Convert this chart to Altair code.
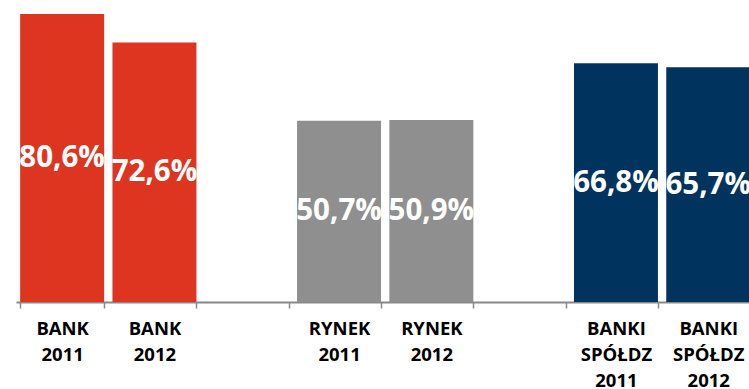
import altair as alt
import pandas as pd

categories = ["BANK|2011", "BANK|2012", "_gap1", "RYNEK|2011", "RYNEK|2012", "_gap2", "BANKI|SPÓŁDZ|2011", "BANKI|SPÓŁDZ|2012"]
bar_categories = ["BANK|2011", "BANK|2012", "RYNEK|2011", "RYNEK|2012", "BANKI|SPÓŁDZ|2011", "BANKI|SPÓŁDZ|2012"]
values = [80.6, 72.6, 50.7, 50.9, 66.8, 65.7]
groups = ["bank", "bank", "rynek", "rynek", "spoldz", "spoldz"]
group_names = ["bank", "rynek", "spoldz"]
group_colors = ["#DE3520", "#8F8F8F", "#00335E"]

df = pd.DataFrame({"cat": bar_categories, "value": values, "group": groups})

x = alt.X(
    "cat:N",
    sort=categories,
    scale=alt.Scale(domain=categories, range=[0, 738.4], paddingInner=0.09, paddingOuter=0.045),
    axis=alt.Axis(
        title=None,
        labelAngle=0,
        tickBand="extent",
        labelExpr="indexof(datum.label, '_') == 0 ? '' : split(datum.label, '|')",
        labelFont="Open Sans",
        labelFontWeight="bold",
        labelFontSize=18.5,
        labelColor="#000000",
        labelLineHeight=26,
        labelPadding=11,
        labelBaseline="top",
        tickSize=6,
        tickColor="#888888",
        tickWidth=1.5,
        domainColor="#888888",
        domainWidth=2,
        grid=False,
    ),
)

base = alt.Chart(df)

bars = base.mark_bar().encode(
    x=x,
    y=alt.Y("value:Q", scale=alt.Scale(domain=[0, 84.5], nice=False), axis=None),
    color=alt.Color("group:N", scale=alt.Scale(domain=group_names, range=group_colors), legend=None),
)

labels = base.transform_calculate(
    mid="datum.value / 2",
    txt="replace(format(datum.value, '.1f'), '.', ',') + '%'",
).mark_text(
    font="Open Sans", fontWeight="bold", fontSize=29.5, color="white", baseline="middle", align="center"
).encode(
    x=alt.X("cat:N", sort=categories),
    y=alt.Y("mid:Q"),
    text="txt:N",
)

chart = alt.layer(bars, labels).properties(
    width=733,
    height=302,
    autosize="none",
    padding={"left": 16, "top": 0, "right": 0, "bottom": 87},
).configure_view(stroke=None)

chart.save("out.html", embed_options={"renderer": "svg", "actions": False})
